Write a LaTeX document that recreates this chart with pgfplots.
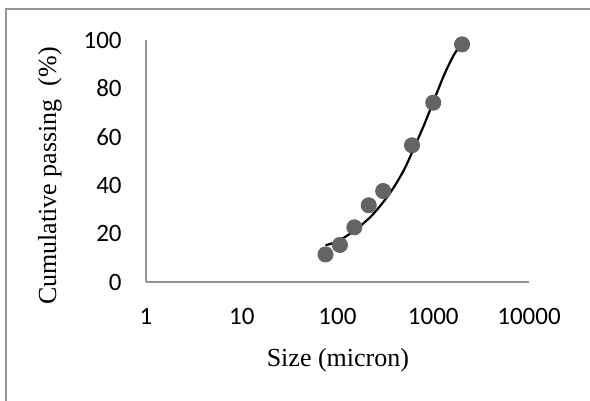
\documentclass[border=0pt]{standalone}
\usepackage{fontspec}
\setmainfont{Liberation Serif}
\newfontfamily\tickfont{Carlito}
\usepackage{pgfplots}
\pgfplotsset{compat=1.18}
\definecolor{framegray}{RGB}{150,150,150}
\definecolor{axisgray}{RGB}{145,145,145}
\definecolor{markgray}{RGB}{100,100,100}

\begin{document}
\begin{tikzpicture}
\path[use as bounding box] (0,0) rectangle (295pt,200.5pt);
% chart frame (only left and top edges are inside the picture)
\draw[framegray, line width=1pt] (3pt,0) -- (3pt,196pt) -- (295pt,196pt);
\begin{axis}[
    at={(73pt,59.5pt)}, anchor=south west,
    scale only axis, width=191.5pt, height=121pt,
    xmode=log, xmin=1, xmax=10000,
    ymin=0, ymax=100,
    axis x line*=bottom, axis y line*=left,
    axis line style={axisgray, line width=1pt, -},
    xtick={1,10,100,1000,10000},
    xticklabels={1,10,100,1000,10000},
    ytick={0,20,40,60,80,100},
    major tick length=0pt, minor tick length=0pt,
    /pgf/number format/assume math mode=true,
    ticklabel style={font=\tickfont\fontsize{12.5}{15}\selectfont, inner sep=0pt},
    xticklabel style={anchor=base, yshift=-21.5pt},
    yticklabel style={anchor=east, xshift=-12pt},
    label style={font=\fontsize{13}{15.6}\selectfont},
    xlabel={Size (micron)},
    ylabel={Cumulative passing~~(\%)},
    xlabel style={at={(axis description cs:0.501,-0.322)}, anchor=center},
    ylabel style={at={(axis description cs:-0.2507,0.438)}, anchor=center},
    clip=false,
]
\addplot[only marks, mark=*, mark size=3.8pt, mark options={fill=markgray, draw=markgray}]
  table {
x y
75 11.4
106 15.3
150 22.6
212 31.7
300 37.6
600 56.5
1000 74.1
2000 98.2
};
\addplot[black, line width=1.1pt, smooth] table {
x y
75 15.2
100 16.8
150 21.2
230 27.6
350 36.5
490 46.0
620 54.8
800 64.8
1000 74.4
1300 85.6
1650 94.0
1950 97.8
};
\end{axis}
\end{tikzpicture}
\end{document}
